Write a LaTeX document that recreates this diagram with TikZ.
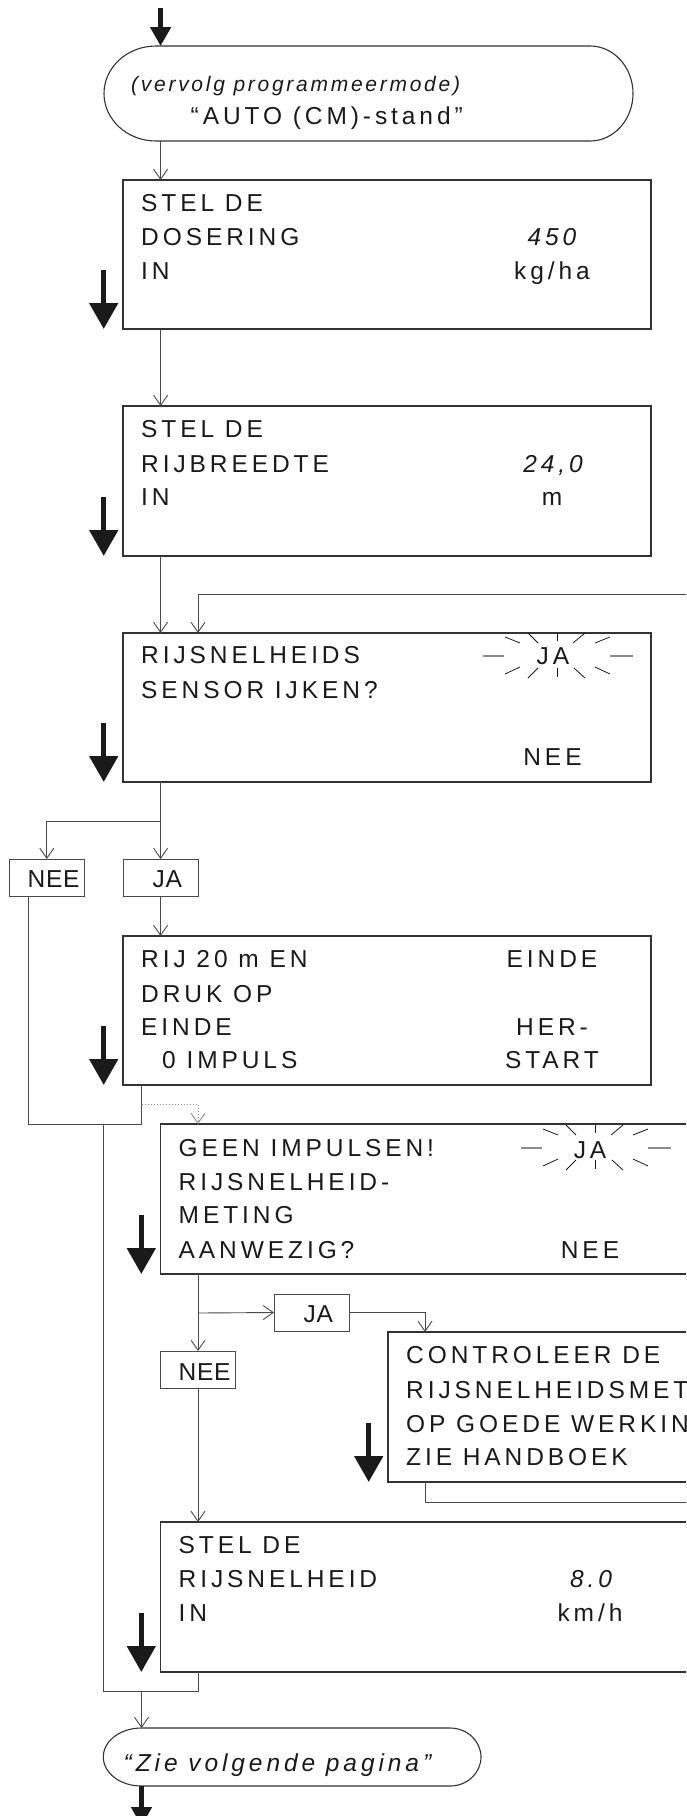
\documentclass[tikz,border=0pt]{standalone}
\usepackage{fontspec}
\setmainfont{Liberation Sans}
\newfontfamily\lcdfont[LetterSpace=16]{Liberation Sans}
\newfontfamily\notefont[LetterSpace=13]{Liberation Sans}
\newfontfamily\tagfont[LetterSpace=3]{Liberation Sans}
\usetikzlibrary{arrows.meta}
\definecolor{ink}{HTML}{1A1A1A}
\definecolor{edge}{HTML}{333333}
\definecolor{wire}{HTML}{4A4A4A}
\definecolor{raygray}{HTML}{8C8C8C}
\begin{document}
\begin{tikzpicture}[x=1pt,y=1pt,
  boxframe/.style={draw=edge, line width=1.3pt, inner sep=0pt, outer sep=0pt, anchor=north west},
  frame/.style={draw=none, inner sep=0pt, outer sep=0pt, anchor=north west},
  tagbox/.style={draw=wire, line width=1pt, inner sep=0pt, outer sep=0pt, anchor=north west},
  txt/.style={inner sep=0pt, anchor=base west, text=ink, font=\lcdfont\fontsize{24.5pt}{30pt}\selectfont},
  val/.style={txt, anchor=base},
  tagtxt/.style={inner sep=0pt, anchor=base west, text=ink, font=\tagfont\fontsize{24.5pt}{30pt}\selectfont},
  notetxt/.style={inner sep=0pt, anchor=base west, text=ink, font=\notefont\itshape\fontsize{21pt}{26pt}\selectfont},
  conn/.style={draw=wire, line width=0.9pt, -{Straight Barb[length=10pt,width=14pt]}},
  wireline/.style={draw=wire, line width=0.9pt},
  dotline/.style={draw=raygray, line width=0.9pt, dash pattern=on 1pt off 2pt, -{Straight Barb[length=10pt,width=14pt]}},
  bigarrow/.style={draw=ink, line width=5pt, -{Triangle[length=26pt,width=28pt]}},
  smallarrow/.style={draw=ink, line width=5pt, -{Triangle[length=19pt,width=20pt]}},
  shapeline/.style={draw=edge, line width=1.1pt},
  rayline/.style={draw=ink, line width=0.8pt},
  hray/.style={draw=raygray, line width=1.4pt},
  flash/.pic={
    \draw[hray] (-74,0) -- (-53,0);
    \draw[hray] (53,0) -- (76,0);
    \draw[rayline] (0,23) -- (0,15);
    \draw[rayline] (0,-12) -- (0,-21);
    \draw[rayline] (-29,23) -- (-19,13);
    \draw[rayline] (16,13) -- (28,23);
    \draw[rayline] (-52,19) -- (-37,13);
    \draw[rayline] (38,13) -- (53,19);
    \draw[rayline] (-29,-22) -- (-19,-12);
    \draw[rayline] (17,-12) -- (28,-22);
    \draw[rayline] (-52,-18) -- (-37,-11);
    \draw[rayline] (38,-11) -- (53,-18);
  }
]
\useasboundingbox (0,0) rectangle (686,-1816);
\clip (0,0) rectangle (686,-1816);

% columns
\coordinate (cA) at (160.6,0);
\coordinate (cB) at (198,0);
\coordinate (cC) at (425,0);
\coordinate (cL) at (103.7,0);
\coordinate (cM) at (141.5,0);
\coordinate (cN) at (28.4,0);

% terminators
\node[frame, minimum width=529pt, minimum height=95pt] (s1) at (104,-46) {};
\draw[shapeline] ([xshift=52pt]s1.north west) -- ([xshift=-43pt]s1.north east)
  arc[start angle=90, end angle=-90, x radius=43pt, y radius=47.5pt]
  -- ([xshift=52pt]s1.south west)
  arc[start angle=270, end angle=90, x radius=52pt, y radius=47.5pt] -- cycle;
\node[notetxt] (s1a) at (131,-91) {(vervolg programmeermode)};
\node[txt] (s1b) at (190.5,-124) {“AUTO (CM)-stand”};

\node[frame, minimum width=377.7pt, minimum height=58pt] (s2) at (103.3,-1728) {};
\draw[shapeline] ([xshift=38pt]s2.north west) -- ([xshift=-31pt]s2.north east)
  arc[start angle=90, end angle=-90, x radius=31pt, y radius=29pt]
  -- ([xshift=38pt]s2.south west)
  arc[start angle=270, end angle=90, x radius=38pt, y radius=29pt] -- cycle;
\node[txt, font=\lcdfont\itshape\fontsize{24.5pt}{30pt}\selectfont] (s2a) at (123.5,-1771) {“Zie volgende pagina”};

% boxes
\node[boxframe, minimum width=528pt, minimum height=149pt] (b1) at (123,-180) {};
\node[boxframe, minimum width=528pt, minimum height=150pt] (b2) at (123,-406) {};
\node[boxframe, minimum width=528pt, minimum height=149pt] (b3) at (123,-633) {};
\node[boxframe, minimum width=528pt, minimum height=149pt] (b4) at (123,-936) {};
\node[boxframe, minimum width=560pt, minimum height=150pt] (b5) at (160.6,-1124) {};
\node[boxframe, minimum width=400pt, minimum height=150pt] (b6) at (388,-1332) {};
\node[boxframe, minimum width=560pt, minimum height=150pt] (b7) at (160.6,-1522) {};

% tags
\node[tagbox, minimum width=74.4pt, minimum height=37pt] (n1) at (9.6,-859) {};
\node[tagbox, minimum width=75pt, minimum height=37pt] (j1) at (123,-859) {};
\node[tagbox, minimum width=75pt, minimum height=37pt] (j2) at (274,-1294) {};
\node[tagbox, minimum width=74.4pt, minimum height=37pt] (n2) at (160.6,-1351) {};
\node[tagtxt] (n1t) at (27.5,-887) {NEE};
\node[tagtxt] (j1t) at (152.5,-887) {JA};
\node[tagtxt] (j2t) at (303.5,-1322) {JA};
\node[tagtxt] (n2t) at (178.5,-1380) {NEE};

% box texts
\node[txt] (b1a) at (141,-211) {STEL DE};
\node[txt] (b1b) at (141,-245) {DOSERING};
\node[txt] (b1c) at (141,-279) {IN};
\node[val] (b1v) at (552,-245) {\itshape 450};
\node[val] (b1u) at (552,-279) {kg/ha};

\node[txt] (b2a) at (141,-437) {STEL DE};
\node[txt] (b2b) at (141,-472) {RIJBREEDTE};
\node[txt] (b2c) at (141,-505) {IN};
\node[val] (b2v) at (553,-472) {\itshape 24,0};
\node[val] (b2u) at (552,-505) {m};

\node[txt] (b3a) at (141,-663) {RIJSNELHEIDS};
\node[txt] (b3b) at (141,-698) {SENSOR IJKEN?};
\node[val] (b3y) at (553,-664) {JA};
\node[val] (b3n) at (552.5,-765) {NEE};
\pic (f3) at (557,-656) {flash};

\node[txt] (b4a) at (141,-967) {RIJ 20 m EN};
\node[txt] (b4b) at (141,-1002) {DRUK OP};
\node[txt] (b4c) at (141,-1035) {EINDE};
\node[txt] (b4d) at (162,-1068) {0 IMPULS};
\node[val] (b4e) at (552,-967) {EINDE};
\node[val] (b4f) at (552,-1035) {HER-};
\node[val] (b4g) at (552,-1068) {START};

\node[txt] (b5a) at (178.5,-1156) {GEEN IMPULSEN!};
\node[txt] (b5b) at (178.5,-1190) {RIJSNELHEID-};
\node[txt] (b5c) at (178.5,-1223) {METING};
\node[txt] (b5d) at (178.5,-1258) {AANWEZIG?};
\node[val] (b5y) at (590,-1158) {JA};
\node[val] (b5n) at (590,-1258) {NEE};
\pic (f5) at (595,-1148) {flash};

\node[txt] (b6a) at (406,-1363) {CONTROLEER DE};
\node[txt] (b6b) at (406,-1398) {RIJSNELHEIDSMETER};
\node[txt] (b6c) at (406,-1432) {OP GOEDE WERKING};
\node[txt] (b6d) at (406,-1465) {ZIE HANDBOEK};

\node[txt] (b7a) at (178.5,-1553) {STEL DE};
\node[txt] (b7b) at (178.5,-1587) {RIJSNELHEID};
\node[txt] (b7c) at (178.5,-1621) {IN};
\node[val] (b7v) at (591,-1587) {\itshape 8.0};
\node[val] (b7u) at (590,-1621) {km/h};

% big side arrows
\foreach \b in {b1,b2,b3,b4,b5,b6,b7}{
  \draw[bigarrow] ([xshift=-19.3pt,yshift=59pt]\b.south west) -- ([xshift=-19.3pt]\b.south west);
}

% connectors
\coordinate (topin) at (160.6,-8);
\draw[smallarrow] (topin) -- (topin |- s1.north);
\draw[conn] (s1.south -| cA) -- (b1.north -| cA);
\draw[conn] (b1.south -| cA) -- (b2.north -| cA);
\draw[conn] (b2.south -| cA) -- (b3.north -| cA);
\draw[conn] (b6.south -| cC) -- ++(0,-20) -| (720,-594.7) -| (b3.north -| cB);

\coordinate (jn3) at (160.6,-821);
\draw[conn] (b3.south -| cA) -- (j1.north -| cA);
\draw[conn] (jn3) -| (n1.north);
\draw[conn] (j1.south -| cA) -- (b4.north -| cA);

\coordinate (m1) at (141.5,-1124);
\coordinate (m2) at (141.5,-1691);
\draw[wireline] (n1.south -| cN) |- (m1);
\draw[wireline] (b4.south -| cM) -- (m1);
\draw[wireline] (m1 -| cL) |- (m2);
\draw[dotline] (cM |- 0,-1104) -| (b5.north -| cB);

\coordinate (jn5) at (198,-1313);
\draw[conn] (b5.south -| cB) -- (n2.north -| cB);
\draw[conn] (jn5) -- (j2.west);
\draw[conn] (j2.east) -| (b6.north -| cC);
\draw[conn] (n2.south -| cB) -- (b7.north -| cB);
\draw[conn] (b7.south -| cB) |- (m2) -- (s2.north -| m2);
\coordinate (botout) at (141.5,-1826);
\draw[smallarrow] (s2.south -| m2) -- (botout);
\end{tikzpicture}
\end{document}
